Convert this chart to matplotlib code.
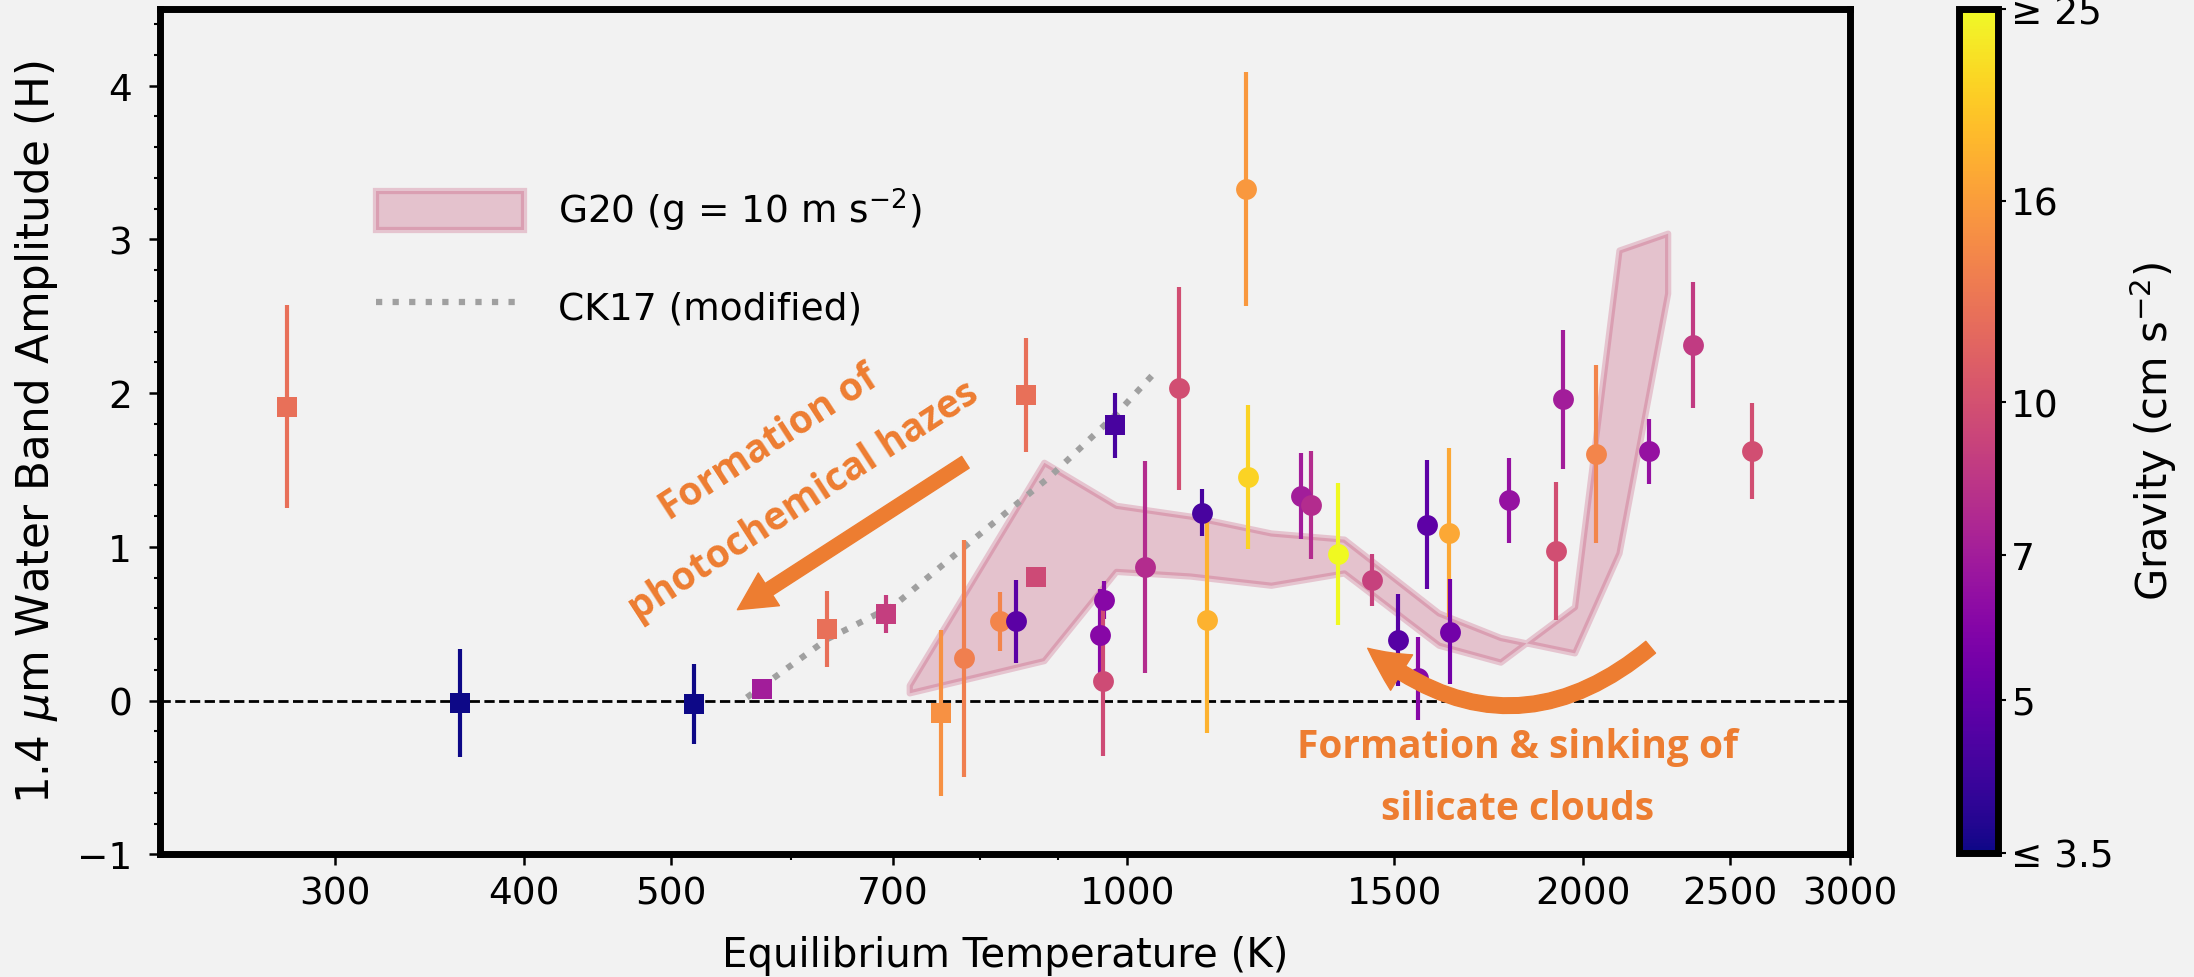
import numpy as np
import matplotlib
matplotlib.use('Agg')
import matplotlib.pyplot as plt
from matplotlib.colors import LogNorm
from matplotlib.ticker import FixedLocator, FixedFormatter, MultipleLocator, NullFormatter
import matplotlib.cm as cm

BG = '#F2F2F2'
ORANGE = '#ED7D31'

# brown dwarf / planet points plotted as squares
sq_T = [279, 363, 518, 574, 634, 693, 754, 858, 871, 982]
sq_H = [1.91, -0.015, -0.025, 0.076, 0.466, 0.563, -0.084, 1.987, 0.801, 1.790]
sq_err = [0.66, 0.35, 0.26, 0.0, 0.245, 0.125, 0.54, 0.37, 0.0, 0.21]
sq_g = [12.3, 3.0, 3.0, 7.0, 12.3, 8.8, 15.0, 12.3, 9.5, 4.4]

# points plotted as circles
ci_T = [780, 824, 845, 965, 959, 964, 1028, 1081, 1198, 1120, 1128, 1202, 1302,
        1323, 1377, 1450, 1509, 1555, 1578, 1630, 1634, 1785, 1918, 1940, 2039,
        2210, 2361, 2583]
ci_H = [0.275, 0.515, 0.515, 0.654, 0.427, 0.128, 0.866, 2.031, 3.327, 1.223,
        0.526, 1.455, 1.331, 1.273, 0.953, 0.786, 0.396, 0.145, 1.143, 1.093,
        0.448, 1.303, 0.974, 1.959, 1.602, 1.621, 2.312, 1.624]
ci_err = [0.77, 0.19, 0.27, 0.125, 0.30, 0.49, 0.69, 0.66, 0.76, 0.155, 0.74,
          0.47, 0.28, 0.35, 0.46, 0.17, 0.30, 0.27, 0.42, 0.55, 0.34, 0.275,
          0.45, 0.45, 0.58, 0.21, 0.41, 0.31]
ci_g = [13.5, 14.0, 4.8, 6.0, 6.0, 9.6, 7.8, 9.8, 15.6, 4.4, 17.9, 21.0, 7.0,
        7.8, 26.0, 9.0, 4.7, 6.0, 4.9, 16.9, 5.4, 6.5, 9.8, 7.0, 14.0, 6.5,
        8.6, 9.8]

# G20 model band (two edges)
band_T = [718, 881, 983, 1100, 1244, 1390, 1605, 1763, 1973, 2111, 2273]
band_a = [0.10, 1.55, 1.27, 1.20, 1.09, 1.05, 0.57, 0.41, 0.31, 0.96, 2.65]
band_b = [0.05, 0.26, 0.84, 0.81, 0.75, 0.83, 0.36, 0.25, 0.61, 2.93, 3.04]

# CK17 (modified)
ck_T = [561, 634, 702, 792, 890, 985, 1042]
ck_H = [0.02, 0.40, 0.62, 1.05, 1.46, 1.87, 2.13]

xticks = [300, 400, 500, 700, 1000, 1500, 2000, 2500, 3000]
cb_ticks = [3.5, 5, 7, 10, 16, 25]
cb_labels = ['≤ 3.5', '5', '7', '10', '16', '≥ 25']

plt.rcParams['font.family'] = ['DejaVu Sans']

fig = plt.figure(figsize=(21.94, 9.78), dpi=100, facecolor=BG)
ax = fig.add_axes([0.07293, 0.12546, 0.77042, 0.86462], facecolor=BG)

cmap = plt.get_cmap('plasma')
norm = LogNorm(vmin=3.5, vmax=25)

ax.axhline(0, color='k', ls='--', lw=2.0, zorder=1)

band_face = (185/255, 35/255, 85/255, 0.23)
band_edge = (185/255, 35/255, 85/255, 0.22)
ax.fill_between(band_T, band_a, band_b, facecolor=band_face, edgecolor=band_edge,
                linewidth=4.5, zorder=1.2, label='G20 (g = 10 m s$^{-2}$)')
ax.plot(ck_T, ck_H, ls=':', color='#A0A0A0', lw=4.5, zorder=1.5, label='CK17 (modified)')

for t, h, e, g in zip(sq_T, sq_H, sq_err, sq_g):
    c = cmap(norm(np.clip(g, 3.5, 25)))
    ax.errorbar(t, h, yerr=e if e > 0 else None, fmt='s', color=c, ms=15,
                elinewidth=3, capsize=0, mew=0, zorder=3)
for t, h, e, g in zip(ci_T, ci_H, ci_err, ci_g):
    c = cmap(norm(np.clip(g, 3.5, 25)))
    ax.errorbar(t, h, yerr=e, fmt='o', color=c, ms=15, elinewidth=3,
                capsize=0, mew=0, zorder=3)

ax.set_xscale('log')
ax.set_xlim(230, 3000)
ax.set_ylim(-1, 4.5)
ax.xaxis.set_major_locator(FixedLocator(xticks))
ax.xaxis.set_major_formatter(FixedFormatter([str(v) for v in xticks]))
ax.xaxis.set_minor_locator(FixedLocator([600, 800, 900]))
ax.xaxis.set_minor_formatter(NullFormatter())
ax.yaxis.set_major_locator(MultipleLocator(1))
ax.yaxis.set_minor_locator(MultipleLocator(0.2))
ax.tick_params(which='major', length=8, width=1.8, labelsize=27, direction='out')
ax.tick_params(which='minor', length=4.5, width=1.5)
ax.tick_params(axis='x', which='major', pad=7)
ax.tick_params(axis='y', which='major', pad=12)
for s in ax.spines.values():
    s.set_linewidth(5)

ax.set_xlabel('Equilibrium Temperature (K)', fontsize=29, labelpad=17)
ax.set_ylabel('1.4 $\\mu$m Water Band Amplitude (H)', fontsize=31.5, labelpad=12)

leg = ax.legend(loc='upper left', bbox_to_anchor=(0.128, 0.79), frameon=False,
                fontsize=27, handlelength=3.95, handleheight=1.25,
                handletextpad=0.9, labelspacing=1.4, borderpad=0, borderaxespad=0)

# annotations
ax.annotate('', xy=(553, 0.591), xytext=(782, 1.55),
            arrowprops=dict(arrowstyle='simple,head_length=2.7,head_width=2.8,tail_width=1.0',
                            color=ORANGE, shrinkA=0, shrinkB=0, mutation_scale=10), zorder=5)
ax.annotate('', xy=(1441, 0.34), xytext=(2215, 0.347),
            arrowprops=dict(arrowstyle='simple,head_length=3.0,head_width=3.0,tail_width=1.1',
                            color=ORANGE, shrinkA=0, shrinkB=0, mutation_scale=10,
                            connectionstyle='arc3,rad=-0.41'), zorder=5)

afont = dict(family=['Open Sans', 'DejaVu Sans'], weight='bold', color=ORANGE, fontsize=28)
ax.text(580, 1.68, 'Formation of', rotation=33, ha='center', va='center',
        rotation_mode='anchor', **afont)
ax.text(612, 1.30, 'photochemical hazes', rotation=33, ha='center', va='center',
        rotation_mode='anchor', **afont)
ax.text(1810, -0.366, 'Formation & sinking of', ha='center', va='baseline', **afont)
ax.text(1810, -0.768, 'silicate clouds', ha='center', va='baseline', **afont)

# colorbar
cax = fig.add_axes([1959/2194, 1 - 853.5/978, 38.5/2194, 843.3/978])
sm = cm.ScalarMappable(norm=norm, cmap=cmap)
cb = fig.colorbar(sm, cax=cax)
cb.outline.set_linewidth(5)
cb.set_ticks(cb_ticks)
cb.set_ticklabels(cb_labels)
cb.ax.minorticks_off()
cb.ax.tick_params(labelsize=27, length=6, width=1.5)
cb.set_label('Gravity (cm s$^{-2}$)', fontsize=30, labelpad=10)

fig.savefig('out.png', dpi=100, facecolor=BG)
